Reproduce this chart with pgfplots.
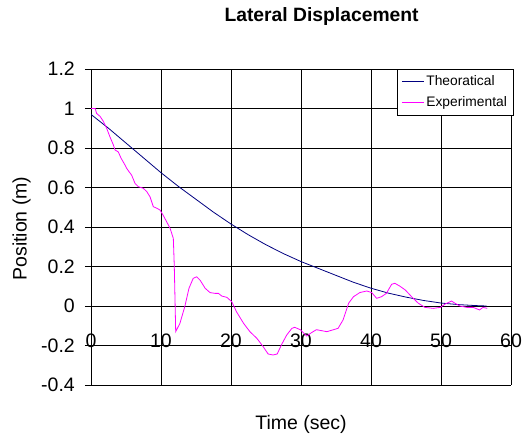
\documentclass[border=0pt]{standalone}
\usepackage{fontspec}
\setmainfont{Liberation Sans}
\usepackage{pgfplots}
\pgfplotsset{compat=1.18}
\definecolor{theo}{RGB}{0,0,128}
\definecolor{expm}{RGB}{255,0,255}
\begin{document}
\begin{tikzpicture}
\useasboundingbox (0,0) rectangle (527pt,435pt);
\begin{axis}[
  at={(91pt,50pt)}, anchor=south west,
  scale only axis, width=420pt, height=316pt,
  xmin=0, xmax=60, ymin=-0.4, ymax=1.2,
  axis x line=middle, axis y line=left,
  axis line style={-, black, line width=0.8pt},
  hide obscured x ticks=false, hide obscured y ticks=false,
  xtick={0,10,20,30,40,50,60},
  xticklabels={0,10,20,30,40,50,60},
  ytick={-0.4,-0.2,0,0.2,0.4,0.6,0.8,1,1.2},
  yticklabels={-0.4,-0.2,0,0.2,0.4,0.6,0.8,1,1.2},
  tick align=outside, major tick length=6pt,
  tick style={black, line width=0.8pt},
  grid=major, major grid style={black, line width=0.8pt},
  tick label style={font=\fontsize{19.5}{22}\selectfont},
  xticklabel style={anchor=north, inner sep=0pt, yshift=-22pt},
  yticklabel style={anchor=east, inner sep=0pt, xshift=-10pt},
  title={\textbf{Lateral Displacement}},
  title style={at={(axis description cs:0.549,1.131)}, anchor=base, font=\fontsize{19.3}{22}\selectfont},
  xlabel={Time (sec)},
  xlabel style={at={(axis description cs:0.5,-0.142)}, anchor=base, font=\fontsize{19.5}{22}\selectfont},
  ylabel={Position (m)},
  ylabel style={at={(axis description cs:-0.153,0.495)}, anchor=base, font=\fontsize{19.5}{22}\selectfont},
  legend style={at={(axis description cs:1.005,1)}, anchor=north east, draw=black,
    fill=white, font=\fontsize{13.8}{16}\selectfont, inner xsep=4pt, inner ysep=2pt,
    nodes={text height=10pt, text depth=3pt, inner ysep=4pt}},
  legend cell align=left,
  legend image code/.code={\draw[#1, line width=0.8pt] (0pt,0pt) -- (22pt,0pt);},
]
\addplot[color=theo, line width=0.8pt] coordinates {
(0,0.97) (2.5,0.90) (5,0.825) (7.5,0.75) (10,0.675) (12.5,0.605) (15,0.54)
(17.5,0.475) (20,0.415) (22.5,0.36) (25,0.31) (27.5,0.265) (30,0.225)
(32.5,0.19) (35,0.155) (37.5,0.12) (40,0.09) (42.5,0.065) (45,0.045)
(47.5,0.028) (50,0.015) (52.5,0.007) (55,0.002) (56.5,0)
};
\addlegendentry{Theoratical}
\addplot[color=expm, line width=0.8pt] coordinates {
(0,1.00) (0.6,1.00) (0.8,0.975) (1.3,0.96) (1.76,0.935) (2.24,0.90) (2.7,0.857)
(3.2,0.815) (3.43,0.79) (3.9,0.78) (4.3,0.748) (4.76,0.72) (5.1,0.697) (5.43,0.68)
(5.8,0.663) (6.3,0.62) (6.76,0.604) (7.47,0.596) (7.95,0.58) (8.43,0.553) (8.9,0.503)
(9.4,0.495) (9.86,0.486) (10.3,0.46) (10.8,0.427) (11.3,0.393) (11.6,0.36) (11.76,0.343)
(11.9,0.2) (12.1,-0.13) (12.7,-0.088) (13.4,-0.003) (14.0,0.09) (14.6,0.14) (15.1,0.148)
(15.6,0.13) (16.3,0.09) (17,0.068) (17.7,0.064) (18.2,0.064) (18.7,0.05) (19.4,0.044)
(20.1,0.022) (20.8,-0.03) (21.8,-0.088) (22.7,-0.13) (23.7,-0.164) (24.6,-0.206)
(25.3,-0.243) (26.0,-0.248) (26.6,-0.243) (27.2,-0.197) (27.96,-0.147) (28.7,-0.113)
(29.1,-0.108) (29.9,-0.12) (30.8,-0.152) (31.5,-0.135) (32.2,-0.12) (33.7,-0.13)
(35.3,-0.113) (36.0,-0.071) (36.8,0.014) (37.5,0.047) (38.4,0.068) (39.4,0.076)
(40.1,0.068) (40.8,0.039) (41.5,0.047) (42.2,0.064) (42.95,0.11) (43.4,0.115)
(44.1,0.101) (44.9,0.081) (45.8,0.047) (46.76,0.014) (47.7,-0.007) (48.9,-0.012)
(49.9,-0.007) (50.6,0.01) (51.5,0.025) (52,0.014) (52.7,0) (53.7,-0.007)
(54.6,-0.007) (55.5,-0.02) (56.0,-0.007) (56.6,-0.012)
};
\addlegendentry{Experimental}
\end{axis}
\end{tikzpicture}
\end{document}
